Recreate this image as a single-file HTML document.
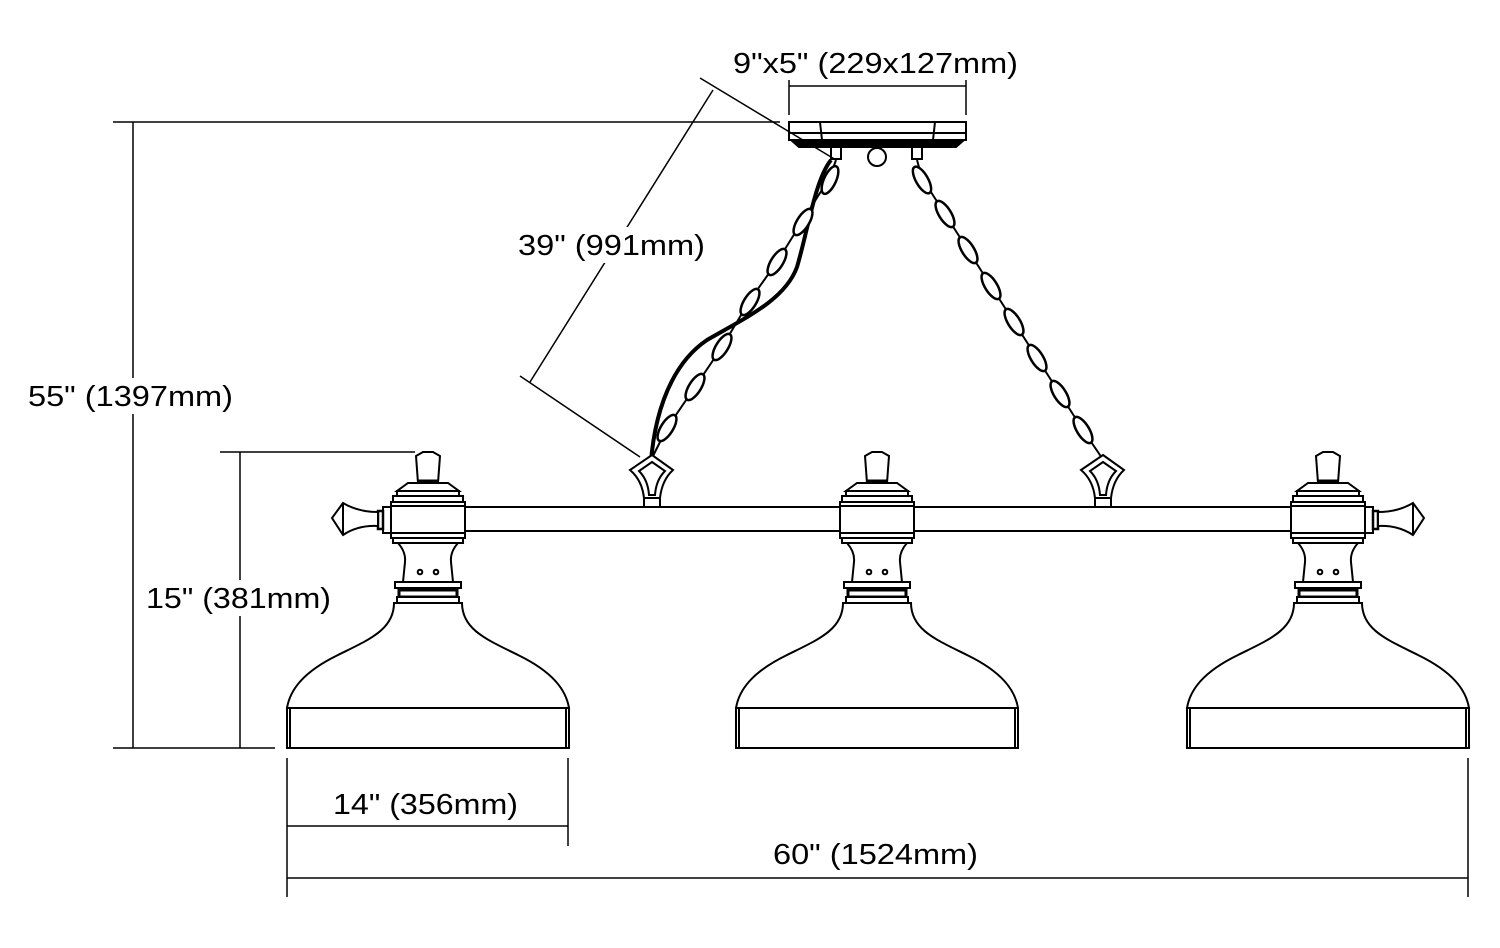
<!DOCTYPE html>
<html><head><meta charset="utf-8"><style>
html,body{margin:0;padding:0;background:#fff}
svg{display:block}
text{font-family:"Liberation Sans",Arial,sans-serif;font-size:29px;fill:#000}
</style></head><body>
<svg width="1500" height="948" viewBox="0 0 1500 948" xmlns="http://www.w3.org/2000/svg">
<defs>
<g id="lamp" fill="#fff" stroke="#000" stroke-width="2">
  <polygon points="-12,456 -5,452 5,452 12,456 10,483 -10,483"/>
  <line x1="-10" y1="481" x2="10" y2="481" stroke-width="3"/>
  <polygon points="-20,483 20,483 31,491 -31,491"/>
  <rect x="-31" y="491" width="62" height="5"/>
  <rect x="-35" y="496" width="70" height="6"/>
  <rect x="-37" y="502" width="74" height="36"/>
  <line x1="-37" y1="506" x2="37" y2="506"/>
  <line x1="-37" y1="533" x2="37" y2="533"/>
  <rect x="-35" y="538" width="70" height="5"/>
  <path d="M-30,543 Q-22,552 -23,562 L-25,582 L25,582 L23,562 Q22,552 30,543 Z"/>
  <circle cx="-8" cy="572" r="2.3"/><circle cx="8" cy="572" r="2.3"/>
  <rect x="-33" y="582" width="66" height="6"/>
  <rect x="-29" y="590" width="58" height="7" stroke-width="3"/>
  <rect x="-31" y="597" width="62" height="6"/>
  <path d="M-34,603 C-34,630 -60,640 -90,655 C-125,672 -138,690 -141,708 L141,708 C138,690 125,672 90,655 C60,640 34,630 34,603 Z"/>
  <rect x="-141" y="708" width="282" height="40"/>
  <line x1="-138" y1="708" x2="-138" y2="748"/>
  <line x1="138" y1="708" x2="138" y2="748"/>
</g>
<g id="side" fill="#fff" stroke="#000" stroke-width="2">
  <rect x="-45" y="507" width="8" height="26"/>
  <rect x="-50" y="511" width="5" height="18" stroke-width="2.5"/>
  <path d="M-50,512 Q-70,512 -85,503 L-96,518 L-85,535 Q-70,525 -50,526 Z"/>
  <line x1="-85" y1="503" x2="-85" y2="535"/>
</g>
</defs>

<rect x="465" y="507" width="826" height="24" fill="#fff" stroke="#000" stroke-width="2"/>
<line x1="877" y1="519" x2="905" y2="519" stroke="#000" stroke-width="2"/>

<use href="#lamp" transform="translate(428,0)"/>
<use href="#lamp" transform="translate(877,0)"/>
<use href="#lamp" transform="translate(1328,0)"/>
<use href="#side" transform="translate(428,0)"/>
<use href="#side" transform="translate(1328,0) scale(-1,1)"/>

<g fill="#fff" stroke="#000" stroke-width="2">
  <rect x="789" y="122" width="177" height="18"/>
  <line x1="789" y1="133" x2="966" y2="133"/>
  <line x1="820" y1="122" x2="822" y2="140"/>
  <line x1="935" y1="122" x2="933" y2="140"/>
  <polygon points="791,140 964,140 956,147 799,147" fill="#000"/>
  <circle cx="877" cy="157" r="9"/>
  <rect x="831" y="147" width="10" height="12"/>
  <rect x="912" y="147" width="10" height="12"/>
</g>

<path d="M831,160 C815,180 808,230 797,267 C785,300 745,318 707,340 C670,365 648,420 650,500" fill="none" stroke="#000" stroke-width="4"/>

<g fill="none" stroke="#000" stroke-width="2">
  <path d="M836,160 L830,177 L803,220 L777,262 L750,300 L722,347 L695,387 L667,428 L652,458"/>
  <path d="M917,160 L922,178 L945,214 L968,250 L991,286 L1014,322 L1037,358 L1060,394 L1083,430 L1102,458"/>
</g>
<g fill="#fff" stroke="#000" stroke-width="2.5">
  <ellipse cx="830" cy="180" rx="15" ry="6" transform="rotate(115 830 180)"/>
  <ellipse cx="803" cy="222" rx="15" ry="6" transform="rotate(122 803 222)"/>
  <ellipse cx="777" cy="262" rx="15" ry="6" transform="rotate(122 777 262)"/>
  <ellipse cx="750" cy="302" rx="15" ry="6" transform="rotate(122 750 302)"/>
  <ellipse cx="722" cy="347" rx="15" ry="6" transform="rotate(122 722 347)"/>
  <ellipse cx="695" cy="387" rx="15" ry="6" transform="rotate(122 695 387)"/>
  <ellipse cx="667" cy="428" rx="15" ry="6" transform="rotate(122 667 428)"/>
  <ellipse cx="922" cy="180" rx="15" ry="6" transform="rotate(60 922 180)"/>
  <ellipse cx="945" cy="214" rx="15" ry="6" transform="rotate(58 945 214)"/>
  <ellipse cx="968" cy="250" rx="15" ry="6" transform="rotate(58 968 250)"/>
  <ellipse cx="991" cy="286" rx="15" ry="6" transform="rotate(58 991 286)"/>
  <ellipse cx="1014" cy="322" rx="15" ry="6" transform="rotate(58 1014 322)"/>
  <ellipse cx="1037" cy="358" rx="15" ry="6" transform="rotate(58 1037 358)"/>
  <ellipse cx="1060" cy="394" rx="15" ry="6" transform="rotate(58 1060 394)"/>
  <ellipse cx="1083" cy="430" rx="15" ry="6" transform="rotate(58 1083 430)"/>
</g>

<g fill="#fff" stroke="#000" stroke-width="2">
  <path d="M652,455 L673,470 Q662,480 660,498 L644,498 Q642,480 630,470 Z"/>
  <path d="M652,462 L665,471 Q656,480 655,495 L649,495 Q648,480 639,471 Z"/>
  <rect x="644" y="498" width="16" height="9"/>
  <path d="M1103,455 L1124,470 Q1113,480 1111,498 L1095,498 Q1093,480 1081,470 Z"/>
  <path d="M1103,462 L1116,471 Q1107,480 1106,495 L1100,495 Q1099,480 1090,471 Z"/>
  <rect x="1095" y="498" width="16" height="9"/>
</g>

<g stroke="#000" stroke-width="1.5" fill="none">
  <line x1="113" y1="122" x2="780" y2="122"/>
  <line x1="113" y1="748" x2="275" y2="748"/>
  <line x1="133" y1="122" x2="133" y2="748"/>
  <line x1="220" y1="452" x2="415" y2="452"/>
  <line x1="240" y1="452" x2="240" y2="748"/>
  <line x1="287" y1="758" x2="287" y2="897"/>
  <line x1="568" y1="758" x2="568" y2="846"/>
  <line x1="1468" y1="758" x2="1468" y2="897"/>
  <line x1="287" y1="826" x2="568" y2="826"/>
  <line x1="287" y1="878" x2="1468" y2="878"/>
  <line x1="789" y1="80" x2="789" y2="115"/>
  <line x1="966" y1="80" x2="966" y2="115"/>
  <line x1="789" y1="86" x2="966" y2="86"/>
  <line x1="700" y1="78" x2="836" y2="160"/>
  <line x1="520" y1="376" x2="640" y2="457"/>
  <line x1="713" y1="90" x2="530" y2="382"/>
</g>

<g fill="#fff">
  <rect x="24" y="378" width="214" height="36"/>
  <rect x="142" y="580" width="194" height="36"/>
  <rect x="514" y="227" width="196" height="36"/>
</g>
<text x="733" y="73" textLength="285" lengthAdjust="spacingAndGlyphs">9"x5" (229x127mm)</text>
<text x="518" y="255" textLength="187" lengthAdjust="spacingAndGlyphs">39" (991mm)</text>
<text x="28" y="406" textLength="205" lengthAdjust="spacingAndGlyphs">55" (1397mm)</text>
<text x="146" y="608" textLength="185" lengthAdjust="spacingAndGlyphs">15" (381mm)</text>
<text x="333" y="814" textLength="185" lengthAdjust="spacingAndGlyphs">14" (356mm)</text>
<text x="773" y="864" textLength="205" lengthAdjust="spacingAndGlyphs">60" (1524mm)</text>
</svg>
</body></html>
